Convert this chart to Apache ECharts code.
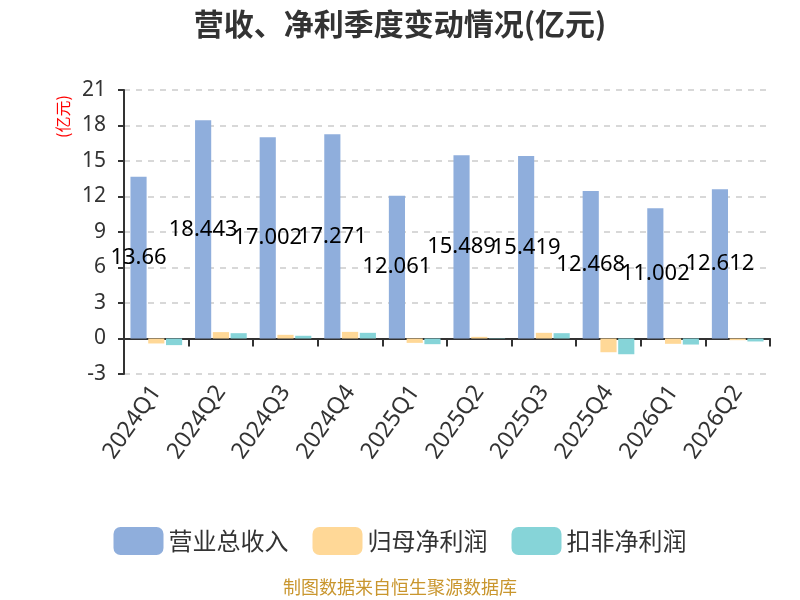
<!DOCTYPE html>
<html><head><meta charset="utf-8">
<script src="https://cdn.jsdelivr.net/npm/echarts@6/dist/echarts.min.js"></script>
<style>html,body{margin:0;padding:0;background:#fff}#c{width:800px;height:600px}</style>
</head><body><div id="c"></div>
<script>
const categories = ['2024Q1','2024Q2','2024Q3','2024Q4','2025Q1','2025Q2','2025Q3','2025Q4','2026Q1','2026Q2'];
const revenue = [13.66,18.443,17.002,17.271,12.061,15.489,15.419,12.468,11.002,12.612];
const netProfit = [-0.42,0.54,0.31,0.56,-0.37,0.14,0.48,-1.16,-0.45,-0.14];
const deductedProfit = [-0.56,0.45,0.23,0.48,-0.48,0.03,0.45,-1.33,-0.51,-0.25];
const seriesNames = ['营业总收入','归母净利润','扣非净利润'];

const chart = echarts.init(document.getElementById('c'));
chart.setOption({
  animation:false,
  color:['#8FAEDC','#FFD897','#86D4D8'],
  title:{text:'营收、净利季度变动情况(亿元)',left:'center',top:4,textStyle:{fontSize:30,fontWeight:'bold',color:'#333',fontFamily:'Noto Sans CJK SC'}},
  graphic:[
    {type:'text',left:'center',top:578,style:{text:'制图数据来自恒生聚源数据库',fill:'#C9962E',fontSize:18,fontFamily:'Noto Sans CJK SC'}},
    {type:'text',x:55,y:138,rotation:Math.PI/2,style:{text:'(亿元)',fill:'red',fontSize:16,fontFamily:'Noto Sans CJK SC'}}
  ],
  legend:{top:522,left:'center',itemWidth:50,itemHeight:28,itemGap:24,textStyle:{fontSize:24,color:'#333',fontFamily:'Noto Sans CJK SC'},data:seriesNames},
  grid:{left:124,right:30,top:90,bottom:226},
  xAxis:{type:'category',data:categories,
    axisLine:{onZero:true,lineStyle:{color:'#333',width:2}},
    axisTick:{show:true,length:8,lineStyle:{color:'#333',width:2}},
    axisLabel:{rotate:55,fontSize:23,color:'#333',margin:14,fontFamily:'Noto Sans'}},
  yAxis:{type:'value',min:-3,max:21,interval:3,
    axisLine:{show:true,lineStyle:{color:'#333',width:2}},
    axisTick:{show:true,length:6,lineStyle:{color:'#333',width:2}},
    axisLabel:{fontSize:21,color:'#333',margin:18,fontFamily:'Noto Sans'},
    splitLine:{lineStyle:{color:'#ccc',type:[6,6],width:1.5}}},
  series:[
    {name:seriesNames[0],type:'bar',data:revenue,barGap:'10%',barCategoryGap:'20%',
      label:{show:true,position:'inside',color:'#000',fontSize:22,fontFamily:'Noto Sans'}},
    {name:seriesNames[1],type:'bar',data:netProfit,barGap:'10%',barCategoryGap:'20%'},
    {name:seriesNames[2],type:'bar',data:deductedProfit,barGap:'10%',barCategoryGap:'20%'}
  ]
});
</script></body></html>
